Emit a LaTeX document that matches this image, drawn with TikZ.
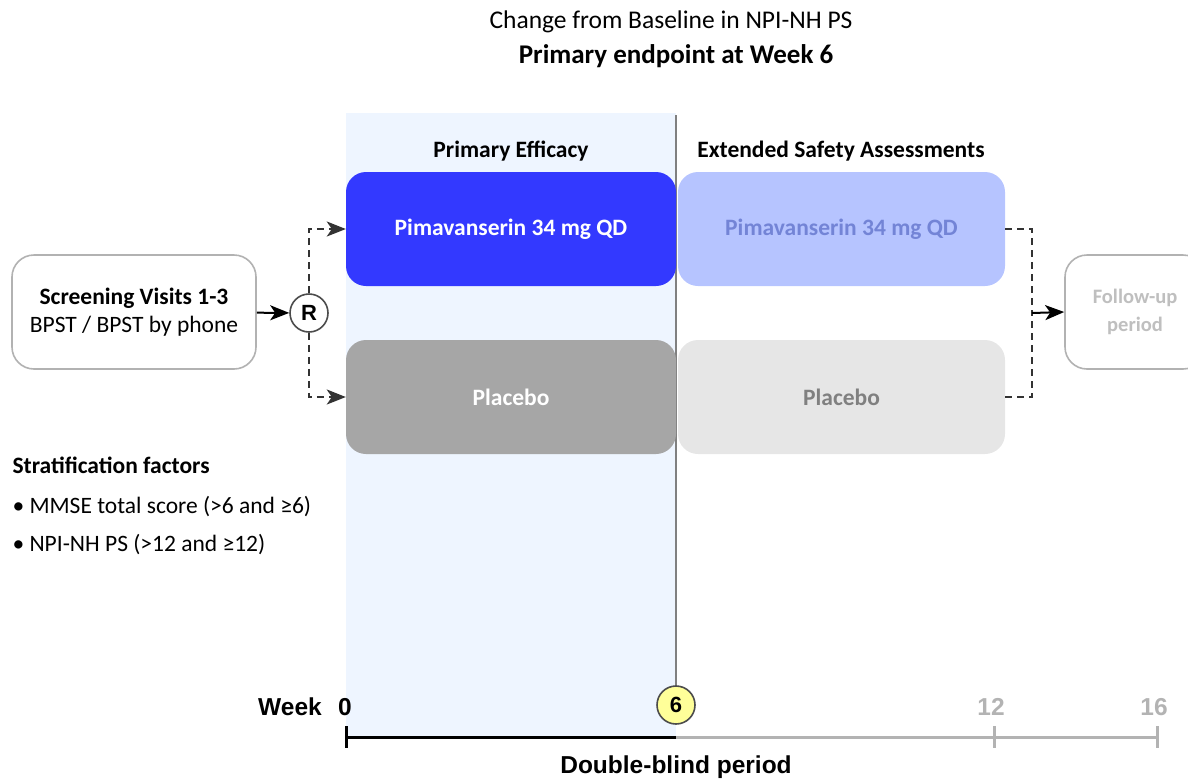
\documentclass[tikz,border=0pt]{standalone}
\usepackage{fontspec}
\setmainfont{Carlito}
\newfontfamily\axisfont{Liberation Sans}
\usetikzlibrary{calc}
\usetikzlibrary{positioning}
\usetikzlibrary{arrows.meta}

\definecolor{bandblue}{HTML}{EEF5FF}
\definecolor{pimadark}{HTML}{3339FF}
\definecolor{pimalight}{HTML}{B6C4FF}
\definecolor{pimatext}{HTML}{7384D6}
\definecolor{placdark}{HTML}{A6A6A6}
\definecolor{placlight}{HTML}{E6E6E6}
\definecolor{placlighttext}{HTML}{808080}
\definecolor{axisgray}{HTML}{B3B3B3}
\definecolor{weekyellow}{HTML}{FFFF99}

\tikzset{
	tipped/.style={arrows={-Stealth[length=19pt,width=15pt,inset=5pt]}},
	armbox/.style={rounded corners=20pt, minimum width=330pt, minimum height=114pt,
		inner sep=0pt, font=\fontsize{23.5}{28}\selectfont\bfseries},
	sidebox/.style={rounded corners=22pt, draw=black!30, line width=1.6pt, fill=white,
		minimum height=114pt, inner sep=0pt, align=center},
	dashline/.style={dash pattern=on 7pt off 5pt, line width=2pt, black!80},
	weekcircle/.style={circle, draw=black!70, line width=1.6pt, minimum size=38pt, inner sep=0pt,
		font=\axisfont\fontsize{22}{26}\selectfont\bfseries},
	weeklabel/.style={font=\axisfont\fontsize{24.5}{28}\selectfont\bfseries},
}

\begin{document}
\begin{tikzpicture}[x=1pt,y=-1pt]
		\useasboundingbox (0,0) rectangle (1188,780);
%		double-blind band and week 6 line
		\fill[bandblue] (346,113) rectangle (676,737);
		\draw[black!50, line width=2pt] (676,115) -- (676,690);
%		titles
		\node (title) at (671,22) {\fontsize{25.5}{30}\selectfont Change from Baseline in NPI-NH PS};
		\node (endpoint) at (676,56) {\fontsize{27}{32}\selectfont\bfseries Primary endpoint at Week 6};
		\node (effhead) at (511,151) {\fontsize{23.5}{28}\selectfont\bfseries Primary Efficacy};
		\node (safehead) at (841,151) {\fontsize{23.5}{28}\selectfont\bfseries Extended Safety Assessments};
%		treatment arms
		\node[armbox, fill=pimadark, text=white] (pimaA) at (511,229) {Pimavanserin 34 mg QD};
		\node[armbox, fill=pimalight, text=pimatext, minimum width=327pt] (pimaB) at (841.5,229) {Pimavanserin 34 mg QD};
		\node[armbox, fill=placdark, text=white] (placA) at (511,397) {Placebo};
		\node[armbox, fill=placlight, text=placlighttext, minimum width=327pt] (placB) at (841.5,397) {Placebo};
%		screening, randomisation, follow-up
		\node[sidebox, minimum width=244pt, font=\fontsize{23.5}{28}\selectfont] (screen) at (134,312)
			{\textbf{Screening Visits 1-3}\\BPST / BPST by phone};
		\node[weekcircle, fill=white] (rand) at (309,313) {R};
		\node[sidebox, align=none, minimum width=140pt, text=black!25, font=\fontsize{20.5}{28}\selectfont\bfseries] (follow) at (1135,312)
			{\begin{tabular}{@{}c@{}}Follow-up\\period\end{tabular}\hspace{26pt}};
		\coordinate (join) at (1032,313);
%		connectors
		\draw[tipped, line width=2pt] (screen) -- (rand);
		\draw[dashline, tipped] (rand.north) |- (pimaA.west);
		\draw[dashline, tipped] (rand.south) |- (placA.west);
		\draw[dashline] (pimaB.east) -| (join);
		\draw[dashline] (placB.east) -| (join);
		\draw[tipped, line width=2pt] (join) -- (follow.west);
%		stratification
		\node[anchor=west, font=\fontsize{23.5}{28}\selectfont\bfseries] (strat) at (9,465) {Stratification factors};
		\node[anchor=west, font=\fontsize{23.5}{28}\selectfont] (mmse) at (9,507) {\textbullet\ MMSE total score (>6 and ≥6)};
		\node[anchor=west, font=\fontsize{23.5}{28}\selectfont] (npi) at (9,545) {\textbullet\ NPI-NH PS (>12 and ≥12)};
%		week axis
		\coordinate (w0) at (346,737);
		\coordinate (w6) at (676,737);
		\coordinate (w12) at (994,737);
		\coordinate (w16) at (1157,737);
		\draw[line width=3pt] (w0) -- (w6);
		\draw[axisgray, line width=3pt] (w6) -- (w16);
		\draw[line width=3pt] ($(w0)+(0,-11)$) -- ($(w0)+(0,11)$);
		\foreach \w in {w12,w16}
			\draw[axisgray, line width=3pt] ($(\w)+(0,-11)$) -- ($(\w)+(0,11)$);
		\node[weeklabel] (weekword) at (290,707) {Week};
		\node[weeklabel] (lab0) at (345,707) {0};
		\node[weeklabel, text=axisgray] (lab12) at (991,707) {12};
		\node[weeklabel, text=axisgray] (lab16) at (1154,707) {16};
		\node[weekcircle, fill=weekyellow] (wk6) at (676,705) {6};
		\node[weeklabel] (dbperiod) at (676,767) {Double-blind period};
	\end{tikzpicture}
\end{document}
